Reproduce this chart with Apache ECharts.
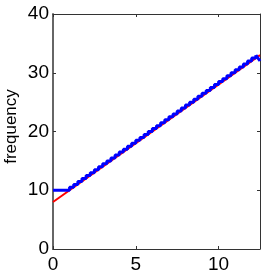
<!DOCTYPE html>
<html><head><meta charset="utf-8">
<script src="https://cdn.jsdelivr.net/npm/echarts@6/dist/echarts.min.js"></script>
<style>html,body{margin:0;padding:0;background:#fff}#c{width:264px;height:271px}</style>
</head><body><div id="c"></div>
<script>
var stepX = [0, 1, 1.25, 1.5, 1.75, 2, 2.25, 2.5, 2.75, 3, 3.25, 3.5, 3.75, 4, 4.25, 4.5, 4.75, 5, 5.25, 5.5, 5.75, 6, 6.25, 6.5, 6.75, 7, 7.25, 7.5, 7.75, 8, 8.25, 8.5, 8.75, 9, 9.25, 9.5, 9.75, 10, 10.25, 10.5, 10.75, 11, 11.25, 11.5, 11.75, 12, 12.25];
var stepY = [10, 10.5, 11, 11.5, 12, 12.5, 13, 13.5, 14, 14.5, 15, 15.5, 16, 16.5, 17, 17.5, 18, 18.5, 19, 19.5, 20, 20.5, 21, 21.5, 22, 22.5, 23, 23.5, 24, 24.5, 25, 25.5, 26, 26.5, 27, 27.5, 28, 28.5, 29, 29.5, 30, 30.5, 31, 31.5, 32, 32.5, 33];
var tailX = [12.25, 12.5];
var tailY = [33, 32];
var fitX = [0, 12.5];
var fitY = [8, 33];
var yName = 'frequency';

var font = 'Liberation Sans';
var chart = echarts.init(document.getElementById('c'), null, {renderer: 'canvas'});
function zip(a, b) { return a.map(function (v, i) { return [v, b[i]]; }); }
var axisLine = {show: true, onZero: false, lineStyle: {color: '#333', width: 1}};
chart.setOption({
  animation: false,
  grid: {left: 53, right: 4, top: 14, bottom: 22, containLabel: false, outerBoundsMode: 'none'},
  xAxis: [{
    type: 'value', min: 0, max: 12.5, interval: 5, position: 'bottom',
    axisLine: axisLine,
    axisTick: {show: true, inside: true, length: 3, lineStyle: {color: '#333'}},
    axisLabel: {fontFamily: font, fontSize: 19, color: '#000', margin: 6,
      formatter: function (v) { return (v % 5 === 0) ? String(v) : ''; }},
    splitLine: {show: false}
  }, {
    type: 'value', min: 0, max: 12.5, interval: 5, position: 'top',
    axisLine: axisLine,
    axisTick: {show: true, inside: true, length: 3, lineStyle: {color: '#333'}},
    axisLabel: {show: false}, splitLine: {show: false}
  }],
  yAxis: [{
    type: 'value', min: 0, max: 40, interval: 10, position: 'left',
    name: yName, nameLocation: 'middle', nameGap: 33, nameMoveOverlap: false,
    nameTextStyle: {fontFamily: font, fontSize: 17, color: '#000', padding: [0, 0, 0, 10]},
    axisLine: {show: true, onZero: false, lineStyle: {color: '#666', width: 2}},
    axisTick: {show: true, inside: true, length: 3, lineStyle: {color: '#333'}},
    axisLabel: {fontFamily: font, fontSize: 19, color: '#000', margin: 4},
    splitLine: {show: false}
  }, {
    type: 'value', min: 0, max: 40, interval: 10, position: 'right',
    axisLine: axisLine,
    axisTick: {show: true, inside: true, length: 3, lineStyle: {color: '#333'}},
    axisLabel: {show: false}, splitLine: {show: false}
  }],
  series: [{
    type: 'line', data: zip(fitX, fitY), showSymbol: false, symbol: 'none',
    lineStyle: {color: '#ff0000', width: 2}, z: 2
  }, {
    type: 'line', data: zip(stepX, stepY), step: 'end', showSymbol: false, symbol: 'none',
    lineStyle: {color: '#0000ff', width: 3}, z: 3
  }, {
    type: 'line', data: zip(tailX, tailY), showSymbol: false, symbol: 'none',
    lineStyle: {color: '#0000ff', width: 3}, z: 3
  }]
});
</script></body></html>
